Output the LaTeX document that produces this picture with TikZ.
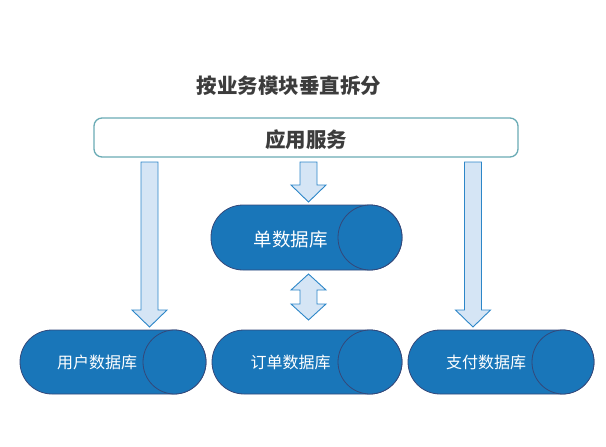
\documentclass[tikz,border=0pt]{standalone}
\usepackage{fontspec}
\newfontfamily\cjk{Noto Sans CJK SC}
\definecolor{dbblue}{HTML}{1976B9}
\definecolor{dbedge}{HTML}{34487A}
\definecolor{arrfill}{HTML}{D5E5F5}
\definecolor{arredge}{HTML}{2C86C8}
\definecolor{svcedge}{HTML}{6AABB5}
\definecolor{titlegray}{HTML}{3C3C3C}
\tikzset{
  dbbody/.style={fill=dbblue, draw=dbedge, line width=0.8pt, rounded corners=32pt},
  dbcap/.style={fill=dbblue, draw=dbedge, line width=0.8pt},
  dblabel/.style={text=white, font=\cjk\fontsize{16}{18}\selectfont, inner sep=0pt},
  blockarrow/.style={fill=arrfill, draw=arredge, line width=0.9pt, line join=miter},
  svcbox/.style={draw=svcedge, line width=1.3pt, rounded corners=8pt, fill=white}
}
% down block arrow: x centre, top, head start, tip
\newcommand{\blockdownarr}[4]{%
  \draw[blockarrow] (#1-8.5,#2) -- (#1+8.5,#2) -- (#1+8.5,#3) -- (#1+17.5,#3) -- (#1,#4)
    -- (#1-17.5,#3) -- (#1-8.5,#3) -- cycle;}
\begin{document}
\begin{tikzpicture}[x=1pt,y=-1pt]
\useasboundingbox (0,0) rectangle (606,447);

\node[text=titlegray, font=\cjk\bfseries\fontsize{20.5}{22}\selectfont, inner sep=0pt] (title) at (289,86) {按业务模块垂直拆分};

\draw[svcbox] (94,118) rectangle (518,157);
\node[text=titlegray, font=\cjk\bfseries\fontsize{20.5}{22}\selectfont, inner sep=0pt] (svc) at (306,140) {应用服务};

% single database
\draw[dbbody] (211,205) rectangle (402,270);
\draw[dbcap] (370,237.5) ellipse [x radius=32, y radius=32.5];
\node[dblabel, font=\cjk\fontsize{18.5}{20}\selectfont] (dbsingle) at (290.5,240) {单数据库};

% user database
\draw[dbbody] (20,330) rectangle (206,394);
\draw[dbcap] (174.5,362) ellipse [x radius=31.5, y radius=32];
\node[dblabel] (dbuser) at (97,362) {用户数据库};

% order database
\draw[dbbody] (212,330) rectangle (402,394);
\draw[dbcap] (370,362) ellipse [x radius=32, y radius=32];
\node[dblabel] (dborder) at (290.5,362) {订单数据库};

% pay database
\draw[dbbody] (408,330) rectangle (594,394);
\draw[dbcap] (563,362) ellipse [x radius=31, y radius=32];
\node[dblabel] (dbpay) at (486,362) {支付数据库};

% arrows
\blockdownarr{149.5}{162}{310}{327}
\blockdownarr{473}{162}{310}{327}
\blockdownarr{308.5}{162}{185}{202}
\draw[blockarrow] (308.5,274) -- (326,290) -- (317,290) -- (317,304) -- (326,304) -- (308.5,320)
  -- (291,304) -- (300,304) -- (300,290) -- (291,290) -- cycle;
\end{tikzpicture}
\end{document}
